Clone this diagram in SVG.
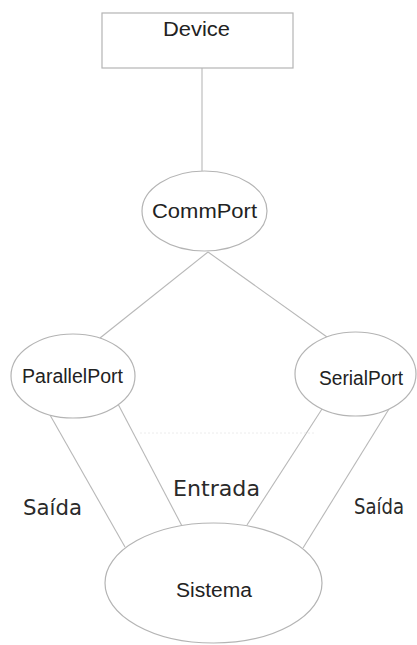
<svg xmlns="http://www.w3.org/2000/svg" width="417" height="645" viewBox="0 0 417 645">
<style>
.node{fill:#fff;stroke:#b4b4b4;stroke-width:1.2}
.lbl{font-family:"Liberation Sans",Arial,sans-serif;font-size:20px;fill:#222;text-anchor:middle}
.edge{stroke:#b8b8b8;stroke-width:1.1;fill:none}
.elbl{font-family:"DejaVu Sans",sans-serif;font-size:21px;fill:#2a2a2a}
</style>
<rect width="417" height="645" fill="#fff"/>
<g id="connectors">
<line class="edge" x1="202" y1="68" x2="202" y2="171"/>
<line class="edge" x1="208" y1="252" x2="100" y2="338"/>
<line class="edge" x1="208" y1="252" x2="327" y2="337"/>
<line class="edge" x1="50" y1="415" x2="125" y2="547"/>
<line class="edge" x1="118" y1="404" x2="182" y2="526"/>
<line class="edge" x1="322" y1="409" x2="247" y2="525"/>
<line class="edge" x1="389" y1="409" x2="303" y2="548"/>
<line x1="140" y1="433" x2="315" y2="433" stroke="#ececec" stroke-width="1" stroke-dasharray="2 2"/>
<text class="elbl" x="23" y="515" textLength="59" lengthAdjust="spacingAndGlyphs">Saída</text>
<text class="elbl" x="173" y="496" textLength="87" lengthAdjust="spacingAndGlyphs">Entrada</text>
<text class="elbl" x="354" y="514" textLength="50" lengthAdjust="spacingAndGlyphs">Saída</text>
</g>
<g id="Device">
<rect class="node" x="102" y="13" width="191" height="55"/>
<text class="lbl" x="196.5" y="36" textLength="67" lengthAdjust="spacingAndGlyphs">Device</text>
</g>
<g id="CommPort">
<ellipse class="node" cx="204.5" cy="211" rx="62.5" ry="40"/>
<text class="lbl" x="204.5" y="218" textLength="105" lengthAdjust="spacingAndGlyphs">CommPort</text>
</g>
<g id="ParallelPort">
<ellipse class="node" cx="73" cy="376" rx="62" ry="42"/>
<text class="lbl" x="72.5" y="383" textLength="101" lengthAdjust="spacingAndGlyphs">ParallelPort</text>
</g>
<g id="SerialPort">
<ellipse class="node" cx="355.5" cy="374" rx="60.5" ry="42"/>
<text class="lbl" x="361" y="385" textLength="84" lengthAdjust="spacingAndGlyphs">SerialPort</text>
</g>
<g id="Sistema">
<ellipse class="node" cx="213.5" cy="583" rx="108.5" ry="60"/>
<text class="lbl" x="214" y="597" textLength="76" lengthAdjust="spacingAndGlyphs">Sistema</text>
</g>
</svg>
